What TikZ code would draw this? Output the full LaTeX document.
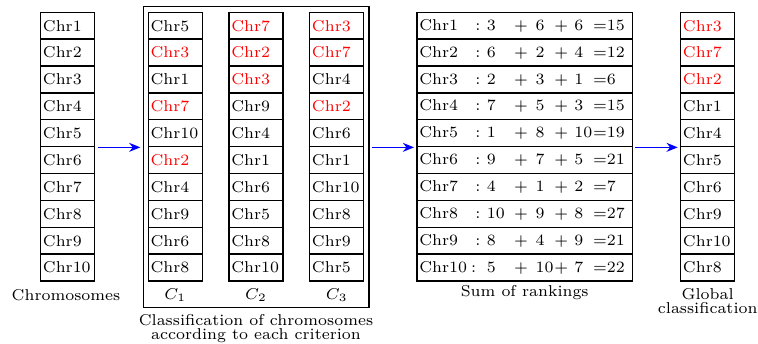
\documentclass[tikz,border=0pt]{standalone}
\usepackage{amsmath}
\usepackage{tikz}
\usetikzlibrary{arrows.meta}
\RequirePackage{color}

\newcommand{\pxu}{0.4444pt}
% one line of the sum table
\newcommand{\rankrow}[6]{%
	\makebox[30pt][l]{\makebox[#2][l]{#1}:}%
	\makebox[12.1pt][l]{#3}%
	\makebox[9.6pt][l]{$+$}%
	\makebox[8.3pt][l]{#4}%
	\makebox[8.9pt][l]{$+$}%
	\makebox[8.3pt][l]{#5}%
	$=$#6}

\tikzset{
	cell/.style={draw, line width=0.65pt, text width=54*\pxu-2pt, minimum height=26.87*\pxu, inner xsep=1pt, inner ysep=0pt, align=left, font=\scriptsize},
	sumcell/.style={cell, text width=215.3*\pxu-2pt},
	lbl/.style={font=\scriptsize, align=center, inner sep=0pt},
	flow/.style={-{Stealth[length=5pt,width=4pt]}, blue, line width=0.55pt, shorten <=1pt, shorten >=1pt}
}

\begin{document}
\begin{tikzpicture}[x=\pxu, y=-\pxu]
\useasboundingbox (0,0) rectangle (758,343);
%chromosomes
\foreach \i in {1,...,10}{
	\node[cell] (a-\i) at (67.7, {25.7+26.87*(\i-1)}) {Chr\i};
	}
\node[lbl] (achr) at (66, 295) {Chromosomes};
%criterion frame
\node[draw, line width=0.65pt, minimum width=225.7*\pxu, minimum height=301*\pxu, inner sep=0pt] (frame) at (256.2, 157.2) {};
%first criterion
\foreach \t/\c [count=\i] in {5/black,3/red,1/black,7/red,10/black,2/red,4/black,9/black,6/black,8/black}{
	\node[cell, text=\c] (c1-\i) at (175.3, {25.7+26.87*(\i-1)}) {Chr\t};
	}
%second criterion
\foreach \t/\c [count=\i] in {7/red,2/red,3/red,9/black,4/black,1/black,6/black,5/black,8/black,10/black}{
	\node[cell, text=\c] (c2-\i) at (256, {25.7+26.87*(\i-1)}) {Chr\t};
	}
%third criterion
\foreach \t/\c [count=\i] in {3/red,7/red,4/black,2/red,6/black,1/black,10/black,8/black,9/black,5/black}{
	\node[cell, text=\c] (c3-\i) at (336.7, {25.7+26.87*(\i-1)}) {Chr\t};
	}
\node[lbl] (lc1) at (175.3, 295) {$C_1$};
\node[lbl] (lc2) at (256, 295) {$C_2$};
\node[lbl] (lc3) at (336.7, 295) {$C_3$};
\node[lbl] (lframe) at (256, 328.5) {Classification of chromosomes\\[-2pt]according to each criterion};
%sum of rankings
\foreach \r/\p/\x/\y/\z/\s [count=\i] in {1/24.9pt/3/6/6/15, 2/24.9pt/6/2/4/12, 3/24.9pt/2/3/1/6, 4/24.9pt/7/5/3/15, 5/24.9pt/1/8/10/19, 6/24.9pt/9/7/5/21, 7/24.9pt/4/1/2/7, 8/24.9pt/10/9/8/27, 9/24.9pt/8/4/9/21, 10/23pt/5/10/7/22}{
	\node[sumcell] (s-\i) at (524.7, {25.7+26.87*(\i-1)}) {\rankrow{Chr\r}{\p}{\x}{\y}{\z}{\s}};
	}
\node[lbl] (lsum) at (524.7, 293) {Sum of rankings};
%global classification
\foreach \t/\c [count=\i] in {3/red,7/red,2/red,1/black,4/black,5/black,6/black,9/black,10/black,8/black}{
	\node[cell, text=\c] (g-\i) at (707.7, {25.7+26.87*(\i-1)}) {Chr\t};
	}
\node[lbl] (lglob) at (707.7, 301) {Global\\[-1.8pt]classification};
%arrows
\draw[flow] (a-5.south east) -- (a-5.south east -| frame.west);
\draw[flow] (s-5.south west -| frame.east) -- (s-5.south west);
\draw[flow] (s-5.south east) -- (g-5.south west);
\end{tikzpicture}
\end{document}
